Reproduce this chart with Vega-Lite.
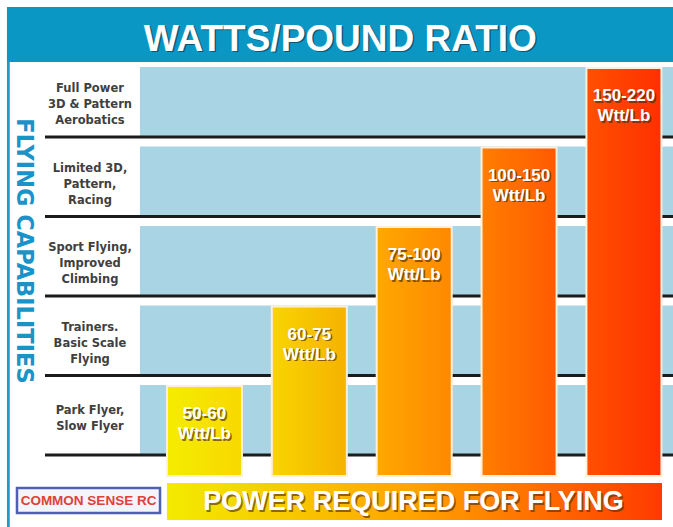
{
  "$schema": "https://vega.github.io/schema/vega-lite/v6.json",
  "width": 673,
  "height": 527,
  "padding": 0,
  "autosize": {"type": "none"},
  "background": "#ffffff",
  "config": {"view": {"stroke": null}},
  "data": {"values": [
    {"rank": 1, "capability": "Park Flyer,\nSlow Flyer", "watts": "50-60", "unit": "Wtt/Lb"},
    {"rank": 2, "capability": "Trainers.\nBasic Scale\nFlying", "watts": "60-75", "unit": "Wtt/Lb"},
    {"rank": 3, "capability": "Sport Flying,\nImproved\nClimbing", "watts": "75-100", "unit": "Wtt/Lb"},
    {"rank": 4, "capability": "Limited 3D,\nPattern,\nRacing", "watts": "100-150", "unit": "Wtt/Lb"},
    {"rank": 5, "capability": "Full Power\n3D & Pattern\nAerobatics", "watts": "150-220", "unit": "Wtt/Lb"}
  ]},
  "encoding": {
    "x": {"type": "quantitative", "scale": {"domain": [-0.95, 5.468], "nice": false, "zero": false}, "axis": null},
    "y": {"type": "quantitative", "scale": {"domain": [-0.786, 5.843], "nice": false, "zero": false}, "axis": null}
  },
  "layer": [
    {
      "data": {"values": [{}]},
      "mark": {"type": "rect", "color": "#0b97c4"},
      "encoding": {
        "x": {"datum": -0.8836, "type": "quantitative"},
        "x2": {"value": "width"},
        "y": {"datum": 5.7547, "type": "quantitative"},
        "y2": {"datum": 5.0629}
      }
    },
    {
      "data": {"values": [{}]},
      "mark": {"type": "rect", "color": "#1a9cc8"},
      "encoding": {
        "x": {"datum": -0.8836, "type": "quantitative"},
        "x2": {"datum": -0.857},
        "y": {"datum": 5.0629, "type": "quantitative"},
        "y2": {"value": "height"}
      }
    },
    {
      "mark": {"type": "rect", "color": "#a9d4e3", "y2Offset": 69},
      "encoding": {
        "x": {"datum": 0.3848, "type": "quantitative"},
        "x2": {"value": "width"},
        "y": {"field": "rank", "type": "quantitative"},
        "y2": {"field": "rank"}
      }
    },
    {
      "mark": {"type": "rule", "color": "#1c1c1c", "strokeWidth": 3, "yOffset": 70},
      "encoding": {
        "x": {"datum": -0.521, "type": "quantitative"},
        "x2": {"value": "width"},
        "y": {"field": "rank", "type": "quantitative"}
      }
    },
    {
      "mark": {"type": "rect", "xOffset": -37.5, "x2Offset": 37.5, "yOffset": 1, "y2Offset": 11.5, "stroke": "#fcefdc", "strokeWidth": 2},
      "encoding": {
        "x": {"field": "rank", "type": "quantitative"},
        "x2": {"field": "rank"},
        "y": {"field": "rank", "type": "quantitative"},
        "y2": {"datum": 0},
        "fill": {
          "condition": [
            {"test": "datum.rank === 1", "value": {"gradient": "linear", "x1": 0, "y1": 0, "x2": 1, "y2": 0, "stops": [{"offset": 0, "color": "#f4ed00"}, {"offset": 1, "color": "#f8d800"}]}},
            {"test": "datum.rank === 2", "value": {"gradient": "linear", "x1": 0, "y1": 0, "x2": 1, "y2": 0, "stops": [{"offset": 0, "color": "#f8d500"}, {"offset": 1, "color": "#f6b200"}]}},
            {"test": "datum.rank === 3", "value": {"gradient": "linear", "x1": 0, "y1": 0, "x2": 1, "y2": 0, "stops": [{"offset": 0, "color": "#ffa800"}, {"offset": 1, "color": "#ff8800"}]}},
            {"test": "datum.rank === 4", "value": {"gradient": "linear", "x1": 0, "y1": 0, "x2": 1, "y2": 0, "stops": [{"offset": 0, "color": "#ff7e00"}, {"offset": 1, "color": "#ff5a00"}]}}
          ],
          "value": {"gradient": "linear", "x1": 0, "y1": 0, "x2": 1, "y2": 0, "stops": [{"offset": 0, "color": "#ff5000"}, {"offset": 1, "color": "#ff3000"}]}
        }
      }
    },
    {
      "mark": {"type": "text", "font": "Liberation Sans", "fontWeight": "bold", "fontSize": 17, "color": "#4a2a10", "opacity": 0.65, "baseline": "middle", "align": "center", "dy": 30.5, "dx": 1.5},
      "encoding": {
        "x": {"field": "rank", "type": "quantitative"},
        "y": {"field": "rank", "type": "quantitative"},
        "text": {"field": "watts"}
      }
    },
    {
      "mark": {"type": "text", "font": "Liberation Sans", "fontWeight": "bold", "fontSize": 17, "color": "#4a2a10", "opacity": 0.65, "baseline": "middle", "align": "center", "dy": 50.5, "dx": 1.5},
      "encoding": {
        "x": {"field": "rank", "type": "quantitative"},
        "y": {"field": "rank", "type": "quantitative"},
        "text": {"field": "unit"}
      }
    },
    {
      "mark": {"type": "text", "font": "Liberation Sans", "fontWeight": "bold", "fontSize": 17, "color": "#ffffff", "baseline": "middle", "align": "center", "dy": 29},
      "encoding": {
        "x": {"field": "rank", "type": "quantitative"},
        "y": {"field": "rank", "type": "quantitative"},
        "text": {"field": "watts"}
      }
    },
    {
      "mark": {"type": "text", "font": "Liberation Sans", "fontWeight": "bold", "fontSize": 17, "color": "#ffffff", "baseline": "middle", "align": "center", "dy": 49},
      "encoding": {
        "x": {"field": "rank", "type": "quantitative"},
        "y": {"field": "rank", "type": "quantitative"},
        "text": {"field": "unit"}
      }
    },
    {
      "transform": [{"filter": "datum.rank !== 1"}],
      "mark": {"type": "text", "font": "DejaVu Sans", "fontWeight": "bold", "fontSize": 11.5, "color": "#404040", "baseline": "middle", "align": "center", "dy": 22, "lineBreak": "\n", "lineHeight": 16},
      "encoding": {
        "x": {"datum": -0.092, "type": "quantitative"},
        "y": {"field": "rank", "type": "quantitative"},
        "text": {"field": "capability"}
      }
    },
    {
      "transform": [{"filter": "datum.rank === 1"}],
      "mark": {"type": "text", "font": "DejaVu Sans", "fontWeight": "bold", "fontSize": 11.5, "color": "#404040", "baseline": "middle", "align": "center", "dy": 26, "lineBreak": "\n", "lineHeight": 16},
      "encoding": {
        "x": {"datum": -0.092, "type": "quantitative"},
        "y": {"field": "rank", "type": "quantitative"},
        "text": {"field": "capability"}
      }
    },
    {
      "data": {"values": [{"label": "FLYING CAPABILITIES"}]},
      "mark": {"type": "text", "font": "DejaVu Sans", "fontWeight": "bold", "fontSize": 22.5, "color": "#1b93c6", "baseline": "middle", "align": "center", "angle": 90},
      "encoding": {
        "x": {"datum": -0.717, "type": "quantitative"},
        "y": {"datum": 2.686, "type": "quantitative"},
        "text": {"field": "label"}
      }
    },
    {
      "data": {"values": [{"label": "WATTS/POUND RATIO"}]},
      "mark": {"type": "text", "font": "Liberation Sans", "fontWeight": "bold", "fontSize": 37, "color": "#08384a", "opacity": 0.65, "baseline": "middle", "align": "center", "dx": 1.5, "dy": 1.5},
      "encoding": {
        "x": {"datum": 2.295, "type": "quantitative"},
        "y": {"datum": 5.34, "type": "quantitative"},
        "text": {"field": "label"}
      }
    },
    {
      "data": {"values": [{"label": "WATTS/POUND RATIO"}]},
      "mark": {"type": "text", "font": "Liberation Sans", "fontWeight": "bold", "fontSize": 37, "color": "#ffffff", "baseline": "middle", "align": "center"},
      "encoding": {
        "x": {"datum": 2.295, "type": "quantitative"},
        "y": {"datum": 5.34, "type": "quantitative"},
        "text": {"field": "label"}
      }
    },
    {
      "data": {"values": [{}]},
      "mark": {"type": "rect", "color": {"gradient": "linear", "x1": 0, "y1": 0, "x2": 1, "y2": 0, "stops": [{"offset": 0, "color": "#f3eb00"}, {"offset": 0.25, "color": "#f8c800"}, {"offset": 0.5, "color": "#ffa200"}, {"offset": 0.75, "color": "#ff6e00"}, {"offset": 1, "color": "#ff3a00"}]}},
      "encoding": {
        "x": {"datum": 0.642, "type": "quantitative"},
        "x2": {"datum": 5.363},
        "y": {"datum": -0.2327, "type": "quantitative"},
        "y2": {"datum": -0.6981}
      }
    },
    {
      "data": {"values": [{"label": "POWER REQUIRED FOR FLYING"}]},
      "mark": {"type": "text", "font": "Liberation Sans", "fontWeight": "bold", "fontSize": 27, "color": "#5a3010", "opacity": 0.65, "baseline": "middle", "align": "center", "dx": 1.5, "dy": 1.5},
      "encoding": {
        "x": {"datum": 2.993, "type": "quantitative"},
        "y": {"datum": -0.4717, "type": "quantitative"},
        "text": {"field": "label"}
      }
    },
    {
      "data": {"values": [{"label": "POWER REQUIRED FOR FLYING"}]},
      "mark": {"type": "text", "font": "Liberation Sans", "fontWeight": "bold", "fontSize": 27, "color": "#ffffff", "baseline": "middle", "align": "center"},
      "encoding": {
        "x": {"datum": 2.993, "type": "quantitative"},
        "y": {"datum": -0.4717, "type": "quantitative"},
        "text": {"field": "label"}
      }
    },
    {
      "data": {"values": [{}]},
      "mark": {"type": "rect", "fill": "#f4f4fa", "stroke": "#4e5fb4", "strokeWidth": 2.5},
      "encoding": {
        "x": {"datum": -0.788, "type": "quantitative"},
        "x2": {"datum": 0.576},
        "y": {"datum": -0.2956, "type": "quantitative"},
        "y2": {"datum": -0.6101}
      }
    },
    {
      "data": {"values": [{"label": "COMMON SENSE RC"}]},
      "mark": {"type": "text", "font": "Liberation Sans", "fontWeight": "bold", "fontSize": 13.5, "color": "#e0403a", "baseline": "middle", "align": "center"},
      "encoding": {
        "x": {"datum": -0.106, "type": "quantitative"},
        "y": {"datum": -0.4528, "type": "quantitative"},
        "text": {"field": "label"}
      }
    }
  ]
}
